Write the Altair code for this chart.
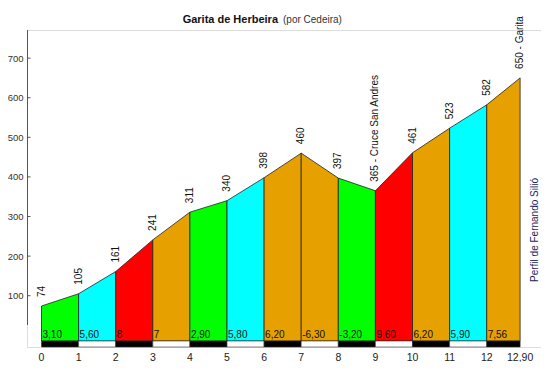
import altair as alt
import pandas as pd

km = [0, 1, 2, 3, 4, 5, 6, 7, 8, 9, 10, 11, 12, 12.9]
altitudes = [74, 105, 161, 241, 311, 340, 398, 460, 397, 365, 461, 523, 582, 650]
point_labels = ["74", "105", "161", "241", "311", "340", "398", "460", "397",
                "365 - Cruce San Andres", "461", "523", "582", "650 - Garita"]
km_labels = ["0", "1", "2", "3", "4", "5", "6", "7", "8", "9", "10", "11", "12", "12,90"]
gradients = ["3,10", "5,60", "8", "7", "2,90", "5,80", "6,20", "-6,30", "-3,20",
             "9,60", "6,20", "5,90", "7,56"]
seg_colors = ["#00FF00", "#00FFFF", "#FF0000", "#E6A000", "#00FF00", "#00FFFF",
              "#E6A000", "#E6A000", "#00FF00", "#FF0000", "#E6A000", "#00FFFF", "#E6A000"]
y_ticks = [100, 200, 300, 400, 500, 600, 700]

nseg = len(gradients)
seg_ids = [f"s{i:02d}" for i in range(nseg)]

area_rows = []
for i in range(nseg):
    area_rows.append({"seg": seg_ids[i], "km": km[i], "alt": altitudes[i]})
    area_rows.append({"seg": seg_ids[i], "km": km[i + 1], "alt": altitudes[i + 1]})
area_df = pd.DataFrame(area_rows)

seg_df = pd.DataFrame({
    "seg": seg_ids,
    "start": km[:-1],
    "end": km[1:],
    "grad": gradients,
    "strip": ["black" if i % 2 == 0 else "white" for i in range(nseg)],
})
pts_df = pd.DataFrame({"km": km, "alt": altitudes, "label": point_labels, "klabel": km_labels})
ticks_df = pd.DataFrame({"v": y_ticks})

xs = alt.Scale(domain=[-0.391, 13.463], nice=False, zero=False)
ys = alt.Scale(domain=[-29.5, 771], nice=False, zero=False)
FONT = "Liberation Sans"

areas = alt.Chart(area_df).mark_area(stroke="#222222", strokeWidth=0.8, opacity=1).encode(
    x=alt.X("km:Q", scale=xs, axis=None),
    y=alt.Y("alt:Q", scale=ys, stack=None,
            axis=alt.Axis(values=y_ticks, domain=False, ticks=False, tickSize=0, grid=False,
                          labelPadding=4, labelFont=FONT, labelFontSize=9.5,
                          labelColor="#333333", title=None)),
    y2=alt.value(311),
    color=alt.Color("seg:N", scale=alt.Scale(domain=seg_ids, range=seg_colors), legend=None),
)

strip = alt.Chart(seg_df).mark_rect(stroke="#333333", strokeWidth=0.6).encode(
    x=alt.X("start:Q", scale=xs),
    x2="end:Q",
    y=alt.value(311),
    y2=alt.value(317),
    fill=alt.Fill("strip:N", scale=None),
)

grad_text = alt.Chart(seg_df).mark_text(align="left", baseline="middle", dx=1,
                                        font=FONT, fontSize=10, color="#111111").encode(
    x=alt.X("start:Q", scale=xs),
    y=alt.value(305),
    text="grad:N",
)

alt_text = alt.Chart(pts_df).mark_text(angle=270, align="left", baseline="middle", dx=9,
                                       font=FONT, fontSize=10, color="#111111").encode(
    x=alt.X("km:Q", scale=xs),
    y=alt.Y("alt:Q", scale=ys),
    text="label:N",
)

km_text = alt.Chart(pts_df).mark_text(align="center", baseline="middle",
                                      font=FONT, fontSize=10.5, color="#222222").encode(
    x=alt.X("km:Q", scale=xs),
    y=alt.value(328),
    text="klabel:N",
)

axis_line = alt.Chart(ticks_df).mark_rule(color="#555555", strokeWidth=1).encode(
    x=alt.value(0.5), y=alt.value(0), y2=alt.value(295)
)
axis_ticks = alt.Chart(ticks_df).mark_rule(color="#555555", strokeWidth=1).encode(
    x=alt.value(0.5), x2=alt.value(3.5), y=alt.Y("v:Q", scale=ys)
)

title_df = pd.DataFrame({"t": ["Garita de Herbeira"], "s": ["(por Cedeira)"],
                         "a": ["Perfil de Fernando Silió"]})
title_bold = alt.Chart(title_df).mark_text(align="right", baseline="middle", font=FONT,
                                           fontSize=11, fontWeight="bold", color="#111111").encode(
    x=alt.value(251), y=alt.value(-10), text="t:N")
title_sub = alt.Chart(title_df).mark_text(align="left", baseline="middle", font=FONT,
                                          fontSize=10, color="#333333").encode(
    x=alt.value(256), y=alt.value(-10), text="s:N")
author = alt.Chart(title_df).mark_text(angle=270, align="center", baseline="middle", font=FONT,
                                       fontSize=10, color="#1c1c5c").encode(
    x=alt.value(508), y=alt.value(200), text="a:N")

chart = alt.layer(
    areas, strip, grad_text, alt_text, km_text, axis_line, axis_ticks,
    title_bold, title_sub, author
).properties(
    width=514, height=317,
    autosize=alt.AutoSizeParams(type="none"),
    padding={"left": 19, "top": 22, "right": 0, "bottom": 15},
).configure_view(stroke=None).configure(background="white")

chart.save("out.html", embed_options={"renderer": "svg", "actions": False})
